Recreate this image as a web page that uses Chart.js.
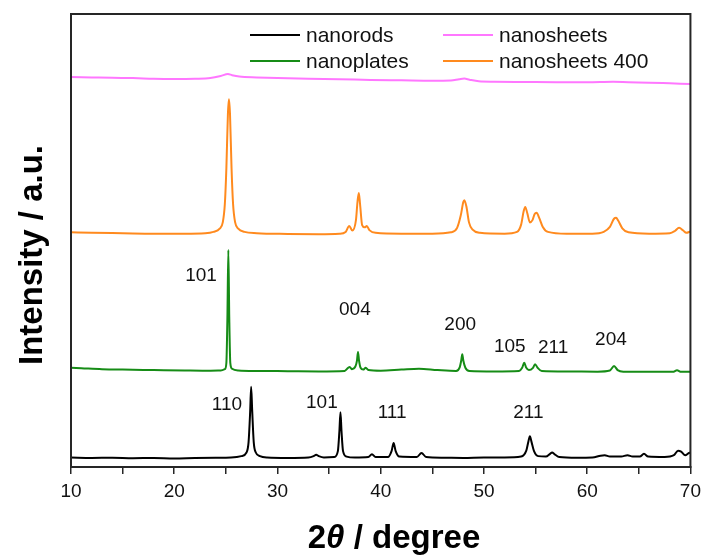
<!DOCTYPE html>
<html>
<head>
<meta charset="utf-8">
<script src="https://cdn.jsdelivr.net/npm/chart.js@4.4.1/dist/chart.umd.min.js"></script>
<style>body{margin:0;background:#fff}</style>
</head>
<body>
<canvas id="xrd" width="707" height="556"></canvas>
<script>
// 2theta (degree) and stacked intensity (a.u.) for each sample
const rodsX = [10,12,14,16,18,20,22,24,25.5,26.5,27.0,27.2,27.35,27.45,27.55,27.7,27.9,28.3,29,31,33,33.5,33.75,34.0,34.5,35.5,35.85,36.0,36.1,36.2,36.35,36.7,37.5,38.8,39.15,39.5,40.7,41.05,41.25,41.45,41.8,43.5,43.95,44.4,46,48,50,52,53.6,54.1,54.3,54.45,54.6,54.85,55.25,56.0,56.4,56.6,56.85,57.3,59,60.5,61.3,61.7,62.2,63.3,63.9,64.4,65.1,65.5,65.9,67.5,68.4,68.8,69.1,69.5,69.8,70]
const rodsY = [2.1,2.0,2.05,1.95,2.0,1.9,2.0,2.05,2.1,2.4,3.2,5.5,12,17.7,12.5,5.5,3.2,2.4,2.1,2.0,2.1,2.4,2.7,2.4,2.1,2.2,3.5,8,12.1,8,3.5,2.3,2.1,2.2,2.8,2.2,2.2,3.5,5.3,3.5,2.3,2.2,3.1,2.2,2.05,2.0,2.1,2.1,2.3,3.6,5.6,6.8,5.6,3.5,2.4,2.3,2.9,3.2,2.8,2.2,2.05,2.1,2.5,2.6,2.3,2.3,2.6,2.3,2.3,2.9,2.3,2.2,2.6,3.6,3.4,2.6,3.0,3.2]

const platesX = [10,11,13,15,18,21,23,24.5,24.9,25.05,25.15,25.24,25.33,25.43,25.6,26.2,28,31,34,36.5,36.85,37.0,37.2,37.55,37.7,37.8,37.9,38.05,38.3,38.55,38.8,40,42,43.7,45.5,47.3,47.65,47.8,47.9,48.0,48.2,48.6,51,53.4,53.7,53.9,54.1,54.35,54.75,54.95,55.2,55.6,58,61,62.2,62.6,62.95,63.5,66,68.3,68.7,69.1,70]
const platesY = [21.9,21.8,21.6,21.5,21.4,21.3,21.25,21.3,21.6,23,33,47.9,33,23,21.7,21.3,21.2,21.15,21.1,21.2,21.9,22.1,21.6,22.2,23.5,25.4,23.5,21.9,21.5,21.9,21.4,21.25,21.5,21.7,21.4,21.2,22.0,23.5,24.9,23.5,21.9,21.2,21.1,21.2,21.9,23.0,21.9,21.4,21.9,22.7,21.9,21.2,21.1,21.05,21.3,22.3,21.4,21.05,21.0,21.0,21.35,21.0,21.0]

const sheets400X = [10,12,15,18,21,23,23.8,24.4,24.7,24.9,25.05,25.2,25.3,25.4,25.55,25.7,25.9,26.2,26.8,28,31,34,36,36.6,36.95,37.25,37.6,37.75,37.88,38.0,38.2,38.45,38.65,38.9,39.5,42,45,46.8,47.4,47.75,48.0,48.1,48.3,48.55,48.9,49.6,52,53.2,53.6,53.85,54.0,54.2,54.45,54.7,54.9,55.1,55.35,55.7,56.2,58,60.5,61.6,62.2,62.6,62.8,63.0,63.4,64,66,68,68.5,68.9,69.3,69.6,70]
const sheets400Y = [51.8,51.7,51.6,51.5,51.5,51.6,51.9,52.6,54,58,66,78,81.2,78,66,58,54,52.6,51.9,51.6,51.45,51.4,51.5,51.9,53.2,52.2,54.5,58.5,60.5,58,53.4,52.9,53.2,52.3,51.7,51.5,51.5,51.8,52.8,55.5,58.5,58.9,57.5,54,52.4,51.7,51.5,51.9,53.5,56.5,57.4,56,54,54.5,55.8,56.1,55,53,51.9,51.5,51.5,51.9,53,54.8,55.0,54.4,52.7,51.8,51.5,51.6,52.1,52.8,52.2,51.7,52.0]

const sheetsX = [10,12,14,16,18,20,22,23.5,24.5,25.2,25.6,26.3,28,30,33,36,39,42,45,46.8,47.6,48.1,48.6,49.5,51,54,57,60,62.5,64,66,68,70]
const sheetsY = [86.1,86.0,85.9,85.85,85.7,85.65,85.7,85.85,86.3,86.75,86.5,86.2,86.0,85.85,85.7,85.6,85.45,85.35,85.25,85.3,85.6,85.75,85.5,85.15,85.05,85.0,84.95,84.95,85.05,84.95,84.85,84.7,84.55]

// reflection labels: text, 2theta, height
const hklText = ['101','004','200','105','211','204','110','101','111','211']
const hklX = [22.6,37.5,47.7,52.5,56.7,62.3,25.1,34.3,41.1,54.3]
const hklY = [42.2,34.7,31.3,26.5,26.3,28.0,13.7,14.1,11.9,11.9]

const xTicks = [10,20,30,40,50,60,70]

function pts(xs, ys) {
    return xs.map((x, i) => ({ x: x, y: ys[i] }))
}

const FONT = '"Liberation Sans", Arial, sans-serif'

const legendRows = [
    { label: 'nanorods', color: '#000000', col: 0, row: 0 },
    { label: 'nanosheets', color: '#FF77FF', col: 1, row: 0 },
    { label: 'nanoplates', color: '#168C16', col: 0, row: 1 },
    { label: 'nanosheets 400', color: '#FF8A1E', col: 1, row: 1 }
]

const decorations = {
    id: 'decorations',
    afterDraw(chart) {
        const ctx = chart.ctx
        const area = chart.chartArea
        const xs = chart.scales.x
        const ys = chart.scales.y
        ctx.save()

        // frame
        ctx.strokeStyle = '#262626'
        ctx.lineWidth = 2
        ctx.strokeRect(area.left, area.top, area.right - area.left, area.bottom - area.top)

        // peak labels
        ctx.fillStyle = '#111'
        ctx.font = '19px ' + FONT
        ctx.textAlign = 'center'
        ctx.textBaseline = 'middle'
        hklText.forEach(function (t, i) {
            ctx.fillText(t, xs.getPixelForValue(hklX[i]), ys.getPixelForValue(hklY[i]))
        })

        // legend
        ctx.font = '21px ' + FONT
        ctx.textAlign = 'left'
        legendRows.forEach(function (item) {
            const lx = item.col === 0 ? 250 : 443
            const ly = item.row === 0 ? 35 : 61
            ctx.strokeStyle = item.color
            ctx.lineWidth = 2
            ctx.beginPath()
            ctx.moveTo(lx, ly)
            ctx.lineTo(lx + 50, ly)
            ctx.stroke()
            ctx.fillStyle = '#111'
            ctx.fillText(item.label, lx + 56, ly + 1)
        })

        // x title: 2θ / degree
        ctx.fillStyle = '#000'
        ctx.textBaseline = 'alphabetic'
        const bold = 'bold 33px ' + FONT
        const ital = 'italic bold 33px ' + FONT
        ctx.font = bold
        const w1 = ctx.measureText('2').width
        const w3 = ctx.measureText(' / degree').width
        ctx.font = ital
        const w2 = ctx.measureText('\u03B8').width
        const tx = 394 - (w1 + w2 + w3) / 2
        const ty = 548
        ctx.font = bold
        ctx.fillText('2', tx, ty)
        ctx.font = ital
        ctx.fillText('\u03B8', tx + w1, ty)
        ctx.font = bold
        ctx.fillText(' / degree', tx + w1 + w2, ty)

        // y title
        ctx.translate(33, 255)
        ctx.rotate(-Math.PI / 2)
        ctx.textAlign = 'center'
        ctx.textBaseline = 'middle'
        ctx.fillText('Intensity / a.u.', 0, 0)
        ctx.restore()
    }
}

new Chart(document.getElementById('xrd'), {
    type: 'line',
    data: {
        datasets: [
            { label: 'nanorods', data: pts(rodsX, rodsY), borderColor: '#000000' },
            { label: 'nanoplates', data: pts(platesX, platesY), borderColor: '#168C16' },
            { label: 'nanosheets 400', data: pts(sheets400X, sheets400Y), borderColor: '#FF8A1E' },
            { label: 'nanosheets', data: pts(sheetsX, sheetsY), borderColor: '#FF77FF' }
        ]
    },
    options: {
        responsive: false,
        animation: false,
        layout: { padding: { left: 71, right: 13, top: 14, bottom: 0 } },
        elements: {
            point: { radius: 0 },
            line: { borderWidth: 2, cubicInterpolationMode: 'monotone', fill: false }
        },
        plugins: {
            legend: { display: false },
            tooltip: { enabled: false }
        },
        scales: {
            x: {
                type: 'linear',
                min: 10,
                max: 70,
                afterFit: function (scale) { scale.height = 89 },
                ticks: {
                    stepSize: 5,
                    autoSkip: false,
                    maxRotation: 0,
                    padding: 6,
                    color: '#111',
                    font: { family: FONT, size: 19 },
                    callback: function (v) { return xTicks.includes(v) ? String(v) : '' }
                },
                grid: { drawOnChartArea: false, tickLength: 7, color: '#262626', lineWidth: 1.5 },
                border: { display: true, color: '#262626', width: 2 }
            },
            y: { display: false, min: 0, max: 100 }
        }
    },
    plugins: [decorations]
});
</script>
</body>
</html>
